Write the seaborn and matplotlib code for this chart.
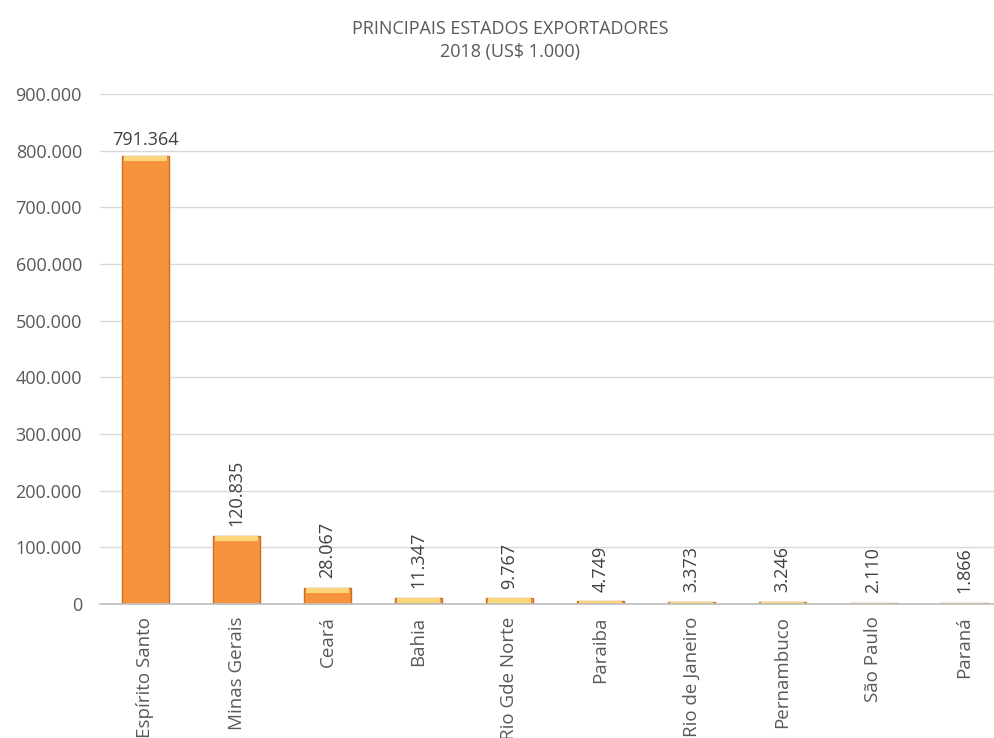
import matplotlib
matplotlib.use("Agg")
import matplotlib.pyplot as plt
from matplotlib.ticker import FuncFormatter
import seaborn as sns
import pandas as pd

estados = ["Espírito Santo", "Minas Gerais", "Ceará", "Bahia", "Rio Gde Norte",
           "Paraiba", "Rio de Janeiro", "Pernambuco", "São Paulo", "Paraná"]
valores = [791364, 120835, 28067, 11347, 9767, 4749, 3373, 3246, 2110, 1866]
y_ticks = [0, 100000, 200000, 300000, 400000, 500000, 600000, 700000, 800000, 900000]

df = pd.DataFrame({"estado": estados, "valor": valores})

sns.set_theme(style="white")
plt.rcParams["font.family"] = ["Open Sans", "DejaVu Sans"]
text_color = "#595959"
fs = 13

def br_fmt(v, pos=None):
    return f"{int(round(v)):,}".replace(",", ".")

fig = plt.figure(figsize=(9.95, 7.38), dpi=100)
ax = fig.add_axes([100 / 995, 1 - 604 / 738, 895 / 995, (604 - 94) / 738])

sns.barplot(data=df, x="estado", y="valor", ax=ax, color="#F7933C",
            width=0.52, edgecolor="#C96F24", linewidth=1.0, saturation=1, zorder=3)

# lighter cap on top of each bar
for patch in ax.patches:
    x0, w, h = patch.get_x(), patch.get_width(), patch.get_height()
    cap = min(h, 9000)
    ax.bar(x0 + w / 2, cap, bottom=h - cap, width=w * 0.9,
           color="#FBD67A", edgecolor="none", zorder=4)

ax.set_ylim(0, 900000)
ax.set_xlim(-0.5, -0.5 + 895 / 91)
ax.set_yticks(y_ticks)
ax.yaxis.set_major_formatter(FuncFormatter(br_fmt))
ax.grid(axis="y", color="#D9D9D9", linewidth=1.0, zorder=0)
ax.set_axisbelow(True)
for s in ["top", "right", "left"]:
    ax.spines[s].set_visible(False)
ax.spines["bottom"].set_color("#BFBFBF")
ax.spines["bottom"].set_zorder(5)

ax.set_xlabel("")
ax.set_ylabel("")
ax.tick_params(axis="y", labelsize=fs, colors=text_color, length=0, pad=13)
ax.tick_params(axis="x", labelsize=13.5, colors=text_color, length=0, pad=9)
plt.setp(ax.get_xticklabels(), rotation=90, ha="center", va="top")

for i, v in enumerate(valores):
    if i == 0:
        ax.text(i, v + 12000, br_fmt(v), ha="center", va="bottom",
                fontsize=fs, color="#404040")
    else:
        ax.annotate(br_fmt(v), (i, v), xytext=(0, 7), textcoords="offset points",
                    rotation=90, ha="center", va="bottom",
                    fontsize=fs, color="#404040")

fig.text(510 / 995, 1 - 29 / 738, "PRINCIPAIS ESTADOS EXPORTADORES",
         ha="center", va="center", fontsize=fs, color=text_color)
fig.text(510 / 995, 1 - 52 / 738, "2018 (US$ 1.000)",
         ha="center", va="center", fontsize=fs, color=text_color)

fig.savefig("out.png", dpi=100)
